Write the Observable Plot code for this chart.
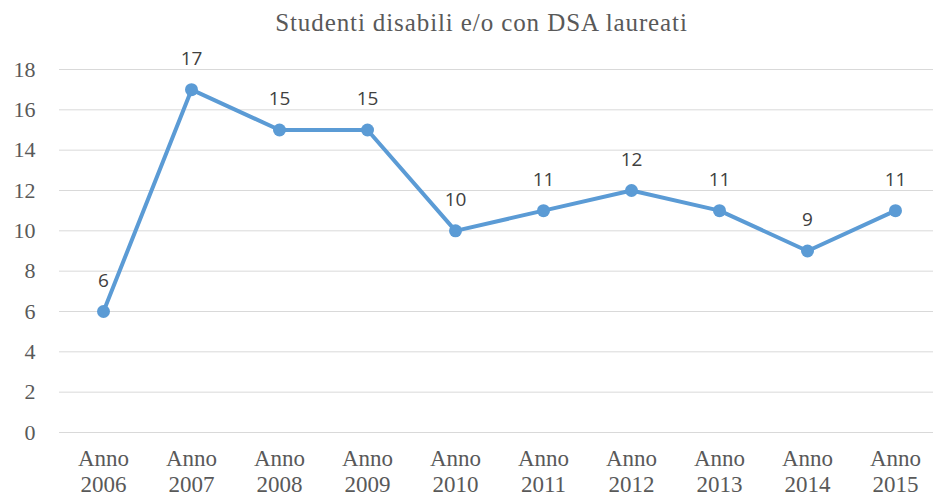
<!DOCTYPE html>
<html>
<head>
<meta charset="utf-8">
<script src="https://cdn.jsdelivr.net/npm/d3@7"></script>
<script src="https://cdn.jsdelivr.net/npm/@observablehq/plot@0.6"></script>
<style>
  html, body { margin: 0; padding: 0; background: #fff; }
  #wrap { width: 933px; }
  #title { height: 40px; box-sizing: border-box; padding-top: 8px; text-align: center; font-family: "Liberation Serif", serif; font-size: 25px; letter-spacing: 0.9px; color: #595959; line-height: 30px; padding-left: 30px; }
</style>
</head>
<body>
<div id="wrap">
  <div id="title">Studenti disabili e/o con DSA laureati</div>
  <div id="chart"></div>
</div>
<script>
const years = ["2006","2007","2008","2009","2010","2011","2012","2013","2014","2015"];
const values = [6, 17, 15, 15, 10, 11, 12, 11, 9, 11];
const yTicks = [0, 2, 4, 6, 8, 10, 12, 14, 16, 18];

const data = years.map((y, i) => ({year: y, value: values[i]}));

const chart = Plot.plot({
  width: 933,
  height: 457,
  marginLeft: 59,
  marginRight: 0,
  marginTop: 29,
  marginBottom: 65,
  x: {type: "point", domain: years, range: [103, 895], padding: 0},
  y: {domain: [0, 18]},
  style: {background: "#fff"},
  marks: [
    Plot.ruleY(yTicks, {stroke: "#d9d9d9", strokeWidth: 1}),
    Plot.axisY({ticks: yTicks, tickSize: 0, tickPadding: 24, fontSize: 22, fontFamily: "Liberation Serif", fill: "#595959", label: null}),
    Plot.axisX({tickSize: 0, tickPadding: 15, fontSize: 23, fontFamily: "Liberation Serif", fill: "#595959", label: null, lineHeight: 1.13, letterSpacing: 0.8, tickFormat: d => "Anno\n" + d}),
    Plot.line(data, {x: "year", y: "value", stroke: "#5b9bd5", strokeWidth: 4}),
    Plot.dot(data, {x: "year", y: "value", r: 6.5, fill: "#5b9bd5"}),
    Plot.text(data, {x: "year", y: "value", text: d => String(d.value), dy: -31, fontSize: 19, fontFamily: "Open Sans", fill: "#404040"})
  ]
});
document.getElementById("chart").appendChild(chart);
</script>
</body>
</html>
